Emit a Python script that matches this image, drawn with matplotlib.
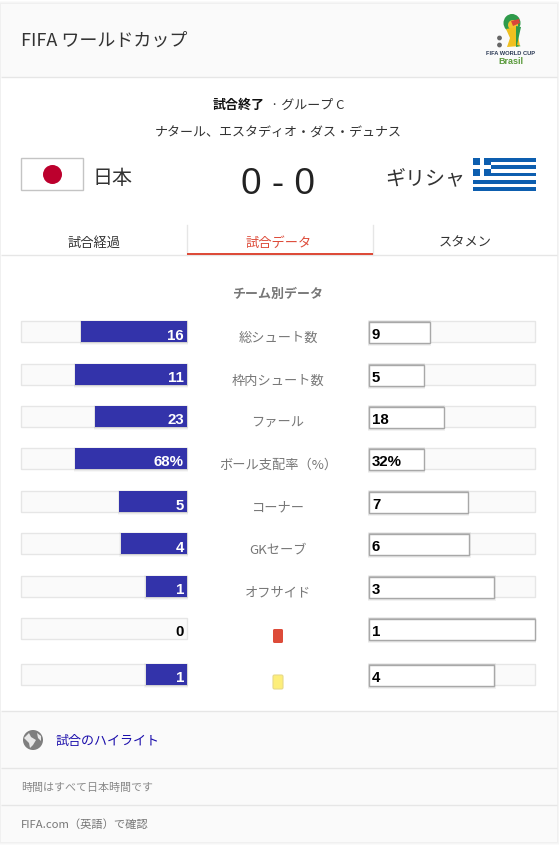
"""Match statistics card, Japan v Greece, drawn in pixel coordinates."""
import matplotlib
matplotlib.use("Agg")
import matplotlib.pyplot as plt
from matplotlib.patches import Circle, Ellipse, FancyBboxPatch, Polygon, Rectangle

plt.rcParams["font.family"] = ["Noto Sans CJK JP", "DejaVu Sans"]

stat_labels = ["総シュート数", "枠内シュート数", "ファール", "ボール支配率（%）", "コーナー", "GKセーブ", "オフサイド", "", ""]
home_text = ["16", "11", "23", "68%", "5", "4", "1", "0", "1"]
away_text = ["9", "5", "18", "32%", "7", "6", "3", "1", "4"]
# share of the track each bar fills
home_share = [0.64, 0.675, 0.555, 0.675, 0.41, 0.40, 0.25, 0.0, 0.25]
away_share = [0.365, 0.33, 0.45, 0.33, 0.595, 0.605, 0.755, 1.0, 0.755]
row_tops = [321, 364, 406, 448, 491, 533, 576, 618, 664]

W, H = 559, 846
BLUE = "#3333aa"
LINE = "#e6e6e6"
PANEL = "#fafafa"
GREY_TEXT = "#777777"
TRACK_W = 166
ROW_H = 21.5
LEFT_END = 187
RIGHT_START = 369

fig = plt.figure(figsize=(W / 100, H / 100), dpi=100, facecolor="white")
ax = fig.add_axes([0, 0, 1, 1])
ax.set_xlim(0, W)
ax.set_ylim(H, 0)
ax.axis("off")


def px(size):
    return size * 0.72


def label(x, y, s, size, color="#222222", ha="left", **kw):
    ax.text(x, y, s, fontsize=px(size), color=color, ha=ha, va="center", **kw)


def rect(x, y, w, h, color, edge="none", lw=0, z=2, alpha=1.0):
    ax.add_patch(Rectangle((x, y), w, h, facecolor=color, edgecolor=edge, linewidth=lw, zorder=z, alpha=alpha))


def shadow(x, y, w, h, strength=0.05, z=3):
    for grow in (2.5, 1.5, 0.8):
        rect(x - grow * 0.5, y - grow * 0.7, w + grow, h + grow * 1.6, "black", z=z, alpha=strength)


def draw_card():
    for grow in (3, 2, 1):
        rect(1 - grow, 4 - grow, 556 + 2 * grow, 838 + 2 * grow, "black", z=0, alpha=0.018)
    rect(1, 4, 556, 838, "white", z=1)
    rect(1, 4, 556, 73, PANEL)
    rect(1, 712, 556, 130, PANEL)
    for y in (77.5, 255.5, 711.5, 768.5, 805.5):
        ax.plot([1, 557], [y, y], color=LINE, lw=1, zorder=3, solid_capstyle="butt")


def draw_logo():
    # trophy, roughly, with the wordmark under it
    ax.add_patch(Ellipse((512, 23), 17, 18, facecolor="#2f9a4a", zorder=3))
    ax.add_patch(Ellipse((513, 25), 10, 10, facecolor="#f2c230", zorder=4))
    ax.add_patch(Polygon([[506, 29], [517, 27], [518, 36], [520, 46], [507, 47], [510, 38]], closed=True, facecolor="#f0c020", zorder=4))
    ax.add_patch(Polygon([[516, 26], [521, 27], [517, 45], [521, 46], [516, 47]], closed=True, facecolor="#2f9a4a", zorder=5))
    ax.add_patch(Polygon([[511, 21], [519, 19], [520, 23], [513, 26]], closed=True, facecolor="#d9453a", zorder=5))
    for cy in (38, 45):
        ax.add_patch(Circle((499.5, cy), 2.4, facecolor="#666666", zorder=4))
    label(510.5, 53.5, "FIFA WORLD CUP", 5.8, color="#2b3a55", ha="center", weight="bold", family="Liberation Sans")
    label(511, 61.5, "Brasil", 9, color="#5a9a3c", ha="center", weight="bold", family="Liberation Sans")


def draw_header():
    label(21, 40.5, "FIFA ワールドカップ", 18, color="#333333")
    draw_logo()
    ax.text(265, 105, "試合終了", fontsize=px(13), color="#111111", ha="right", va="center", weight="bold")
    label(271, 105, "· グループ C", 13, color="#333333")
    label(278, 133, "ナタール、エスタディオ・ダス・デュナス", 13, ha="center", color="#333333")

    # flags
    rect(21, 158.5, 62, 32, "white", edge="#c4c4c4", lw=1)
    ax.add_patch(Circle((52.5, 174.5), 9.5, facecolor="#bc002d", zorder=3))
    label(93, 178.5, "日本", 20, color="#333333")
    label(278, 184, "0 - 0", 37, ha="center", color="#222222", family="Liberation Sans")
    label(465, 178.5, "ギリシャ", 20, color="#333333", ha="right")
    rect(473, 158, 63, 33, "#0d5eaf")
    for i in range(1, 9, 2):
        rect(473, 158 + i * 33 / 9, 63, 33 / 9, "white", z=3)
    rect(473, 158, 18, 18.3, "#0d5eaf", z=4)
    rect(480.2, 158, 3.6, 18.3, "white", z=5)
    rect(473, 165.3, 18, 3.6, "white", z=5)


def draw_tabs():
    label(93.5, 243, "試合経過", 13.2, ha="center", color="#333333")
    label(279, 243, "試合データ", 13.2, ha="center", color="#dd4b39")
    label(465, 243, "スタメン", 13.2, ha="center", color="#333333")
    for x in (186.5, 372.5):
        ax.plot([x, x], [225, 255], color=LINE, lw=1, zorder=3)
    rect(186.5, 253, 186, 2.2, "#dd4b39", z=4)


def draw_rows():
    label(278, 294, "チーム別データ", 13, ha="center", color=GREY_TEXT, weight="bold")
    for i, top in enumerate(row_tops):
        rect(21, top, TRACK_W, ROW_H, PANEL, edge=LINE, lw=1)
        rect(RIGHT_START, top, TRACK_W, ROW_H, PANEL, edge=LINE, lw=1)

        home_w = TRACK_W * home_share[i]
        if home_w > 0:
            shadow(LEFT_END - home_w, top + 0.8, home_w, ROW_H - 1, strength=0.03)
            ax.barh(top + ROW_H / 2, home_w, height=ROW_H - 1, left=LEFT_END - home_w, color=BLUE, zorder=4)
        num_color = "white" if home_w > 0 else "black"
        ax.text(LEFT_END - 3, top + 14.5, home_text[i], fontsize=px(15), color=num_color, ha="right", va="center",
                weight="bold", family="Liberation Sans", zorder=6)

        away_w = TRACK_W * away_share[i]
        shadow(RIGHT_START, top + 1, away_w, ROW_H, strength=0.05)
        ax.barh(top + 1 + ROW_H / 2, away_w, height=ROW_H, left=RIGHT_START, color="white",
                edgecolor="#a8a8a8", linewidth=1, zorder=4)
        ax.text(RIGHT_START + 3, top + 14, away_text[i], fontsize=px(15), color="black", ha="left", va="center",
                weight="bold", family="Liberation Sans", zorder=6)

        if stat_labels[i]:
            label(278, top + 17, stat_labels[i], 13.2, ha="center", color=GREY_TEXT)

    ax.add_patch(FancyBboxPatch((273, 629), 10, 14, boxstyle="round,pad=0,rounding_size=1.5", facecolor="#dd4b39", edgecolor="none", zorder=3))
    ax.add_patch(FancyBboxPatch((273, 675), 10, 14, boxstyle="round,pad=0,rounding_size=1.5", facecolor="#fdee7a", edgecolor="#e6d98a", linewidth=0.8, zorder=3))


def draw_footer():
    ax.add_patch(Circle((33, 740), 10, facecolor="#7f7f7f", zorder=3))
    ax.add_patch(Polygon([[24, 738], [29, 733], [31, 737], [36, 740], [33, 745], [30, 748], [29, 743]], closed=True, facecolor="#e8e8e8", zorder=4))
    ax.add_patch(Polygon([[37, 733], [41, 736], [41, 741], [38, 738]], closed=True, facecolor="#e8e8e8", zorder=4))
    label(55, 741, "試合のハイライト", 13, color="#1a0dab")
    label(21, 788, "時間はすべて日本時間です", 11, color="#888888", style="italic")
    label(21, 825, "FIFA.com（英語）で確認", 11.3, color="#777777")


draw_card()
draw_header()
draw_tabs()
draw_rows()
draw_footer()

fig.savefig("out.png", dpi=100, facecolor="white")
